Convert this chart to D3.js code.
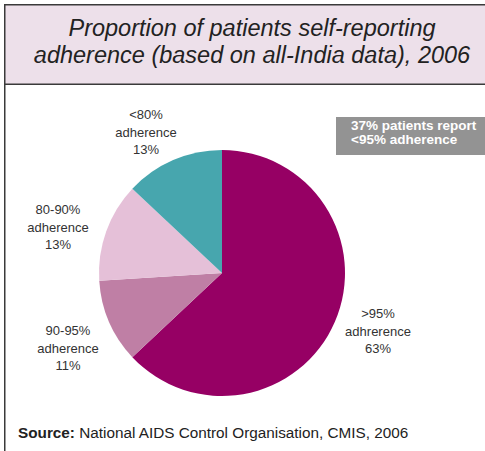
<!DOCTYPE html>
<html><head><meta charset="utf-8">
<script src="https://cdn.jsdelivr.net/npm/d3@7/dist/d3.min.js"></script>
<style>body{margin:0;background:#fff}svg{display:block}</style>
</head><body>
<script>
const categories = [">95%", "90-95%", "80-90%", "<80%"];
const labelWords = ["adhrerence", "adherence", "adherence", "adherence"];
const values = [63, 11, 13, 13];
const colors = ["#960064", "#bf7fa5", "#e5c0d8", "#47a6ae"];
const titleLines = ["Proportion of patients self-reporting", "adherence (based on all-India data), 2006"];
const noteLines = ["37% patients report", "<95% adherence"];
const labelPos = [[378, 313], [68, 330], [58, 209], [146, 114]];

const W = 485, H = 451;
const svg = d3.select("body").append("svg").attr("width", W).attr("height", H);

// Title box
svg.append("rect").attr("x", 4.75).attr("y", 4.75).attr("width", W).attr("height", 79.5)
  .attr("fill", "#ede0ea").attr("stroke", "#3a3a3a").attr("stroke-width", 1.5);
svg.append("line").attr("x1", 4.75).attr("x2", 4.75).attr("y1", 84).attr("y2", H)
  .attr("stroke", "#3a3a3a").attr("stroke-width", 1.5);
svg.selectAll("text.title").data(titleLines).join("text").attr("class", "title")
  .attr("x", 252).attr("y", (d, i) => 36 + i * 27)
  .attr("text-anchor", "middle").attr("font-family", "Liberation Sans, Arial, sans-serif")
  .attr("font-style", "italic").attr("font-size", 23.5).attr("fill", "#222").text(d => d);

// Pie
const cx = 222, cy = 273, r = 123;
const pie = d3.pie().sort(null).value(d => d)(values);
const arc = d3.arc().innerRadius(0).outerRadius(r);
const g = svg.append("g").attr("transform", `translate(${cx},${cy})`);
g.selectAll("path").data(pie).join("path").attr("d", arc).attr("fill", (d, i) => colors[i]);

// Labels
const lab = svg.append("g").attr("font-family", "Liberation Sans, Arial, sans-serif")
  .attr("font-size", 13).attr("fill", "#333").attr("text-anchor", "middle");
categories.forEach((c, i) => {
  const lines = [c, labelWords[i], values[i] + "%"];
  lines.forEach((t, j) => {
    lab.append("text").attr("x", labelPos[i][0]).attr("y", labelPos[i][1] + 5 + j * 17.5).text(t);
  });
});

// Note box
svg.append("rect").attr("x", 336).attr("y", 117).attr("width", W - 336).attr("height", 38).attr("fill", "#939393");
svg.selectAll("text.note").data(noteLines).join("text").attr("class", "note")
  .attr("x", 351).attr("y", (d, i) => 130 + i * 14)
  .attr("font-family", "Liberation Sans, Arial, sans-serif").attr("font-weight", "bold")
  .attr("font-size", 13.5).attr("fill", "#fff").text(d => d);

// Source
const src = svg.append("text").attr("x", 18).attr("y", 438)
  .attr("font-family", "Liberation Sans, Arial, sans-serif")
  .attr("font-size", 15.3).attr("fill", "#222");
src.append("tspan").attr("font-weight", "bold").text("Source:");
src.append("tspan").text(" National AIDS Control Organisation, CMIS, 2006");
</script>
</body></html>
